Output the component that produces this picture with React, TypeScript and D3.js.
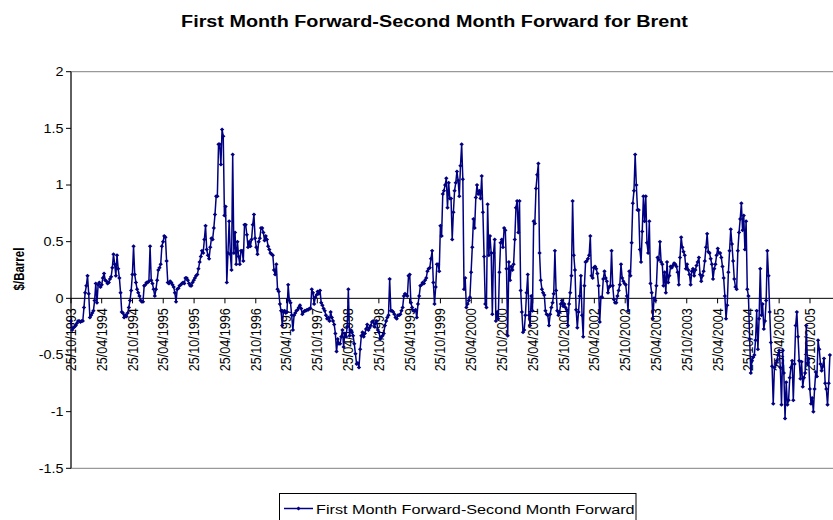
// BrentSpread.tsx
import React, { useRef, useEffect } from 'react';
import * as d3 from 'd3';

// Labels
const TITLE = 'First Month Forward-Second Month Forward for Brent';
const SERIES_NAME = 'First Month Forward-Second Month Forward';
const Y_TITLE = '$/Barrel';

// Weekly observations start here
const START_DATE = '25/10/1993';

const TICK_LABELS = [
  '25/10/1993', '25/04/1994', '25/10/1994', '25/04/1995', '25/10/1995',
  '25/04/1996', '25/10/1996', '25/04/1997', '25/10/1997', '25/04/1998',
  '25/10/1998', '25/04/1999', '25/10/1999', '25/04/2000', '25/10/2000',
  '25/04/2001', '25/10/2001', '25/04/2002', '25/10/2002', '25/04/2003',
  '25/10/2003', '25/04/2004', '25/10/2004', '25/04/2005', '25/10/2005',
];

const Y_TICKS = [-1.5, -1, -0.5, 0, 0.5, 1, 1.5, 2];

// Spread ($/barrel), one array per 52 weeks
const spread1993 = [
  -0.20, -0.28, -0.26, -0.25, -0.24, -0.22, -0.20, -0.20, -0.21, -0.20, -0.20, -0.08, 0.05,
  0.11, 0.20, 0.04, -0.17, -0.15, -0.13, -0.11, -0.02, 0.13, -0.04, 0.12, 0.14, 0.10,
  0.12, 0.18, 0.22, 0.16, 0.15, 0.13, 0.14, 0.17, 0.19, 0.27, 0.39, 0.30, 0.20,
  0.38, 0.26, 0.18, 0.05, -0.12, -0.13, -0.17, -0.15, -0.16, -0.13, -0.08, -0.02, 0.07,
];
const spread1994 = [
  0.21, 0.46, 0.21, 0.14, 0.08, 0.05, 0.02, -0.02, -0.03, -0.03, 0.11, 0.12, 0.14,
  0.14, 0.15, 0.46, 0.16, 0.13, 0.08, 0.02, 0.08, 0.16, 0.25, 0.27, 0.30, 0.46,
  0.50, 0.55, 0.54, 0.33, 0.14, 0.13, 0.15, 0.14, 0.12, 0.10, 0.05, -0.03, 0.08,
  0.09, 0.11, 0.12, 0.13, 0.14, 0.13, 0.18, 0.18, 0.16, 0.13, 0.11, 0.11, 0.14,
];
const spread1995 = [
  0.16, 0.18, 0.20, 0.21, 0.26, 0.32, 0.37, 0.42, 0.40, 0.52, 0.64, 0.43, 0.38,
  0.35, 0.45, 0.53, 0.52, 0.62, 0.74, 0.90, 0.90, 1.36, 1.36, 1.18, 1.49, 1.43,
  0.73, 0.81, 0.14, 0.40, 0.68, 0.39, 0.25, 1.27, 0.40, 0.58, 0.30, 0.50, 0.37,
  0.30, 0.42, 0.42, 0.33, 0.65, 0.65, 0.56, 0.45, 0.50, 0.46, 0.52, 0.65, 0.74,
];
const spread1996 = [
  0.53, 0.45, 0.39, 0.50, 0.53, 0.62, 0.62, 0.58, 0.51, 0.55, 0.52, 0.46, 0.43,
  0.40, 0.39, 0.38, 0.25, 0.21, 0.30, 0.08, 0.06, -0.05, -0.11, -0.24, -0.12, -0.11,
  -0.13, -0.12, 0.12, -0.02, -0.04, -0.15, -0.28, -0.15, -0.13, -0.11, -0.10, -0.08, -0.06,
  -0.09, -0.14, -0.12, -0.11, -0.11, -0.10, -0.10, -0.09, -0.09, 0.08, 0.05, -0.05, 0.01,
];
const spread1997 = [
  0.03, 0.06, 0.04, 0.07, -0.04, -0.06, -0.09, -0.11, -0.15, -0.18, -0.17, -0.20, -0.12,
  -0.17, -0.20, -0.23, -0.31, -0.47, -0.36, -0.40, -0.40, -0.34, -0.28, -0.43, -0.31, -0.34,
  -0.25, 0.08, -0.33, -0.28, -0.30, -0.33, -0.40, -0.49, -0.58, -0.57, -0.61, -0.45, -0.33,
  -0.30, -0.34, -0.31, -0.27, -0.23, -0.28, -0.26, -0.24, -0.21, -0.20, -0.25, -0.22, -0.20,
];
const spread1998 = [
  -0.28, -0.30, -0.36, -0.34, -0.33, -0.31, -0.24, -0.20, -0.17, -0.15, 0.17, -0.11, -0.11,
  -0.12, -0.14, -0.17, -0.18, -0.15, -0.15, -0.14, -0.11, -0.08, 0.02, 0.04, 0.03, 0.02,
  0.20, 0.21, -0.04, -0.08, -0.11, -0.11, -0.10, -0.17, -0.05, 0.02, 0.11, 0.12, 0.14,
  0.13, 0.16, 0.18, 0.24, 0.26, 0.27, 0.35, 0.42, 0.14, -0.05, 0.10, 0.30, 0.30,
];
const spread1999 = [
  0.24, 0.64, 0.55, 0.92, 0.95, 1.00, 1.06, 0.80, 1.02, 0.88, 0.88, 0.52, 0.76,
  0.95, 1.02, 1.12, 1.04, 0.90, 1.17, 1.36, 1.05, 0.08, 0.18, -0.08, -0.05, -0.02,
  0.01, 0.23, 0.45, 0.70, 0.62, 0.89, 1.00, 0.92, 0.95, 0.88, 1.08, 0.76, 0.37,
  -0.05, -0.08, 0.83, 0.38, 0.55, 0.40, -0.14, 0.40, 0.52, -0.20, -0.12, -0.18, 0.23,
];
const spread2000 = [
  0.49, 0.52, 0.45, 0.62, 0.60, 0.26, -0.33, 0.32, 0.16, 0.28, 0.25, 0.30, 0.52,
  0.80, 0.86, 0.58, 0.86, 0.07, -0.12, -0.30, -0.28, -0.15, 0.05, 0.21, -0.15, -0.24,
  0.02, -0.11, 0.68, 0.66, 0.97, 1.09, 1.19, 0.40, 0.16, 0.08, 0.05, 0.03, -0.11,
  -0.14, -0.15, -0.24, -0.14, -0.08, -0.04, 0.04, 0.42, 0.07, -0.11, -0.15, -0.12, -0.05,
];
const spread2001 = [
  -0.02, -0.07, -0.05, -0.08, -0.10, -0.24, -0.05, 0.05, 0.20, 0.86, 0.38, 0.25, -0.10,
  -0.26, -0.12, 0.02, 0.20, -0.15, -0.34, 0.11, 0.32, 0.33, 0.35, 0.38, 0.55, 0.20,
  0.18, 0.27, 0.28, 0.26, 0.22, 0.11, -0.21, 0.01, 0.01, 0.17, 0.24, 0.18, 0.15,
  0.05, 0.10, 0.11, 0.42, 0.11, -0.01, -0.04, -0.04, 0.02, 0.07, 0.12, 0.30, 0.18,
];
const spread2002 = [
  0.15, 0.13, 0.12, 0.02, -0.11, 0.24, 0.20, 0.49, 0.84, 0.95, 1.27, 1.00, 0.78,
  0.78, 0.43, 0.32, 0.59, 0.90, 0.68, 0.90, 0.49, 0.40, 0.68, 0.13, 0.05, -0.18,
  0.00, -0.02, 0.11, 0.36, 0.34, 0.50, 0.32, 0.30, 0.11, 0.23, 0.05, 0.32, 0.14,
  0.20, 0.28, 0.27, 0.29, 0.31, 0.30, 0.28, 0.23, 0.12, 0.36, 0.54, 0.45, 0.41,
];
const spread2003 = [
  0.38, 0.26, 0.30, 0.25, 0.21, 0.12, 0.24, 0.26, 0.20, 0.25, 0.29, 0.32, 0.36,
  0.21, 0.15, 0.20, 0.24, 0.33, 0.45, 0.57, 0.41, 0.40, 0.35, 0.30, 0.17, 0.26,
  0.30, 0.38, 0.44, 0.40, 0.40, 0.36, 0.28, 0.18, 0.02, -0.18, -0.06, 0.23, 0.42,
  0.61, 0.48, 0.33, 0.17, 0.10, 0.08, 0.42, 0.58, 0.70, 0.84, 0.60, 0.73, 0.43,
];
const spread2004 = [
  0.68, 0.08, 0.02, -0.36, -0.66, -0.55, -0.52, -0.50, -0.37, -0.11, -0.45, -0.18, 0.26,
  -0.15, -0.05, -0.27, -0.20, -0.02, 0.42, 0.20, -0.12, -0.39, -0.60, -0.93, -0.61, -0.58,
  -0.55, -0.50, -0.46, -0.61, -0.94, -0.46, -0.66, -1.06, -0.74, -0.94, -0.90, -0.70, -0.61,
  -0.55, -0.90, -0.58, -0.24, -0.12, -0.34, -0.55, -0.71, -0.56, -0.78, -0.70, -0.66, -0.24,
];
const spread2005 = [
  -0.58, -0.53, -0.80, -0.93, -0.88, -1.00, -0.80, -0.65, -0.69, -0.37,
  -0.45, -0.58, -0.64, -0.60, -0.53, -0.75, -0.80, -0.94, -0.75, -0.50,
];

const NAVY = '#000080';
const FONT = '"Liberation Sans", Arial, sans-serif';

const BrentSpread = () => {
  const svgRef = useRef(null);

  useEffect(() => {
    const values = [
      ...spread1993, ...spread1994, ...spread1995, ...spread1996, ...spread1997,
      ...spread1998, ...spread1999, ...spread2000, ...spread2001, ...spread2002,
      ...spread2003, ...spread2004, ...spread2005,
    ];
    const parse = d3.timeParse('%d/%m/%Y');
    const start = parse(START_DATE);
    const data = values.map((v, i) => ({ date: d3.timeDay.offset(start, 7 * i), value: v }));
    const ticks = TICK_LABELS.map(t => ({ label: t, date: parse(t) }));

    // Dimensions
    const width = 833;
    const height = 520;
    const plot = { left: 71, right: 845, top: 71.7, bottom: 468.3 };

    // Scales (time axis runs past the right edge of the picture)
    const x = d3.scaleTime()
      .domain([start, ticks[ticks.length - 1].date])
      .range([plot.left, 810]);

    const y = d3.scaleLinear()
      .domain([-1.5, 2])
      .range([plot.bottom, plot.top]);

    const svg = d3.select(svgRef.current)
      .attr('width', width)
      .attr('height', height);

    svg.selectAll('*').remove();

    svg.append('rect')
      .attr('width', width)
      .attr('height', height)
      .attr('fill', '#fff');

    // Plot area border
    svg.append('rect')
      .attr('x', plot.left)
      .attr('y', plot.top)
      .attr('width', plot.right - plot.left)
      .attr('height', plot.bottom - plot.top)
      .attr('fill', 'none')
      .attr('stroke', '#808080')
      .attr('stroke-width', 1);

    // Title
    svg.append('text')
      .attr('transform', 'translate(434.5,26.7) scale(1.2,1)')
      .attr('text-anchor', 'middle')
      .attr('font-family', FONT)
      .attr('font-weight', 'bold')
      .attr('font-size', 16.5)
      .text(TITLE);

    // Y axis
    const yAxis = svg.append('g');
    yAxis.append('line')
      .attr('x1', plot.left).attr('x2', plot.left)
      .attr('y1', plot.top).attr('y2', plot.bottom)
      .attr('stroke', '#000');
    yAxis.selectAll('line.tick')
      .data(Y_TICKS)
      .enter()
      .append('line')
      .attr('class', 'tick')
      .attr('x1', plot.left - 5).attr('x2', plot.left)
      .attr('y1', d => y(d)).attr('y2', d => y(d))
      .attr('stroke', '#000');
    yAxis.selectAll('text')
      .data(Y_TICKS)
      .enter()
      .append('text')
      .attr('transform', d => `translate(63.5,${y(d) + 4.4}) scale(1.2,1)`)
      .attr('text-anchor', 'end')
      .attr('font-family', FONT)
      .attr('font-size', 12)
      .text(d => String(d));

    svg.append('text')
      .attr('transform', 'translate(23.5,269) scale(1.2,1) rotate(-90)')
      .attr('text-anchor', 'middle')
      .attr('font-family', FONT)
      .attr('font-weight', 'bold')
      .attr('font-size', 11.5)
      .text(Y_TITLE);

    // X axis at zero
    const y0 = y(0);
    const xAxis = svg.append('g');
    xAxis.append('line')
      .attr('x1', plot.left).attr('x2', plot.right)
      .attr('y1', y0).attr('y2', y0)
      .attr('stroke', '#000');
    xAxis.selectAll('line.tick')
      .data(ticks)
      .enter()
      .append('line')
      .attr('class', 'tick')
      .attr('x1', d => x(d.date)).attr('x2', d => x(d.date))
      .attr('y1', y0).attr('y2', y0 + 5)
      .attr('stroke', '#000');
    xAxis.selectAll('text')
      .data(ticks)
      .enter()
      .append('text')
      .attr('transform', d => `translate(${x(d.date) + 5},${y0 + 10}) scale(1.15,1) rotate(-90)`)
      .attr('text-anchor', 'end')
      .attr('font-family', FONT)
      .attr('font-size', 12.6)
      .text(d => d.label);

    // Line
    const line = d3.line()
      .x(d => x(d.date))
      .y(d => y(d.value));

    svg.append('path')
      .datum(data)
      .attr('fill', 'none')
      .attr('stroke', NAVY)
      .attr('stroke-width', 1.5)
      .attr('stroke-linejoin', 'round')
      .attr('d', line);

    // Diamond markers
    const diamond = (cx, cy) => `M${cx - 2.2},${cy}L${cx},${cy - 2}L${cx + 2.2},${cy}L${cx},${cy + 2}Z`;
    svg.append('g')
      .selectAll('path')
      .data(data)
      .enter()
      .append('path')
      .attr('d', d => diamond(x(d.date), y(d.value)))
      .attr('fill', NAVY);

    // Legend
    const legend = svg.append('g');
    legend.append('rect')
      .attr('x', 279.5)
      .attr('y', 493.5)
      .attr('width', 356.5)
      .attr('height', 40)
      .attr('fill', '#fff')
      .attr('stroke', '#000');
    legend.append('line')
      .attr('x1', 284).attr('x2', 313)
      .attr('y1', 508.5).attr('y2', 508.5)
      .attr('stroke', NAVY)
      .attr('stroke-width', 1.5);
    legend.append('path')
      .attr('d', diamond(298.5, 508.5))
      .attr('fill', NAVY);
    legend.append('text')
      .attr('transform', 'translate(316,513.5) scale(1.2,1)')
      .attr('font-family', FONT)
      .attr('font-size', 13.5)
      .text(SERIES_NAME);
  }, []);

  return (
    <div style={{ position: 'absolute', left: 0, top: 0, width: '833px', height: '520px', overflow: 'hidden' }}>
      <svg ref={svgRef} style={{ display: 'block' }}></svg>
    </div>
  );
};

export default BrentSpread;
